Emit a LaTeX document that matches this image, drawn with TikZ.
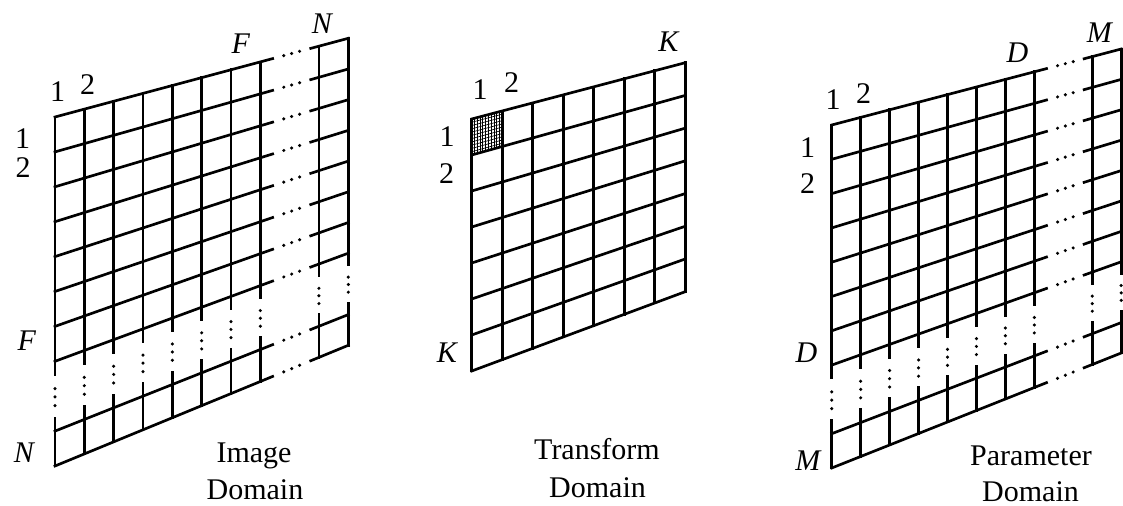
\documentclass[tikz,border=0pt]{standalone}
\usepackage{fontspec}
\setmainfont{Liberation Serif}
\newcommand{\gp}[2]{({\gXo+(#1)*\gDX},{\gYo+(#1)*\gA+(#2)*(\gC+(#1)*\gD)})}
\newcommand{\gapgrid}{%
  \foreach \v in {0,...,7,9,10}{%
    \draw[gl] \gp{0}{\v} -- \gp{7.42}{\v};
    \draw[gl] \gp{8.72}{\v} -- \gp{10}{\v};
    \foreach \t in {7.8,8.07,8.34} \fill \gp{\t}{\v} circle[radius=1.3pt];
  }%
  \foreach \u in {0,...,7,9,10}{%
    \draw[gl] \gp{\u}{0} -- \gp{\u}{7.38};
    \draw[gl] \gp{\u}{8.62} -- \gp{\u}{10};
    \foreach \t in {7.78,8.02,8.27} \fill \gp{\u}{\t} circle[radius=1.3pt];
  }%
}
\begin{document}
\begin{tikzpicture}[x=0.75pt,y=-0.75pt,
  gl/.style={line width=2pt, line cap=rect},
  fine/.style={line width=0.5pt},
  lbl/.style={inner sep=0pt, font=\fontsize{22.5}{27}\selectfont}]
\useasboundingbox (0,0) rectangle (1123,506);

% ---------- Image domain ----------
\def\gXo{55}\def\gDX{29.33}\def\gYo{117}\def\gA{-7.87}\def\gC{34.9}\def\gD{-0.42}
\gapgrid
\node[lbl] (i1t) at (57.5,92) {1};
\node[lbl] (i2t) at (87.5,85) {2};
\node[lbl] (iFt) at (241,44) {\textit{F}};
\node[lbl] (iNt) at (322.5,23.5) {\textit{N}};
\node[lbl] (i1l) at (22.5,139) {1};
\node[lbl] (i2l) at (23,168) {2};
\node[lbl] (iFl) at (27,340.5) {\textit{F}};
\node[lbl] (iNl) at (24.5,453) {\textit{N}};
\node[lbl, anchor=base] (icap1) at (254,462) {Image};
\node[lbl, anchor=base] (icap2) at (255,499) {Domain};

% ---------- Transform domain ----------
\def\gXo{471.7}\def\gDX{30.5}\def\gYo{119}\def\gA{-8.04}\def\gC{36}\def\gD{-0.47}
\foreach \i in {1,...,10}{%
  \draw[fine] \gp{\i/11}{0} -- \gp{\i/11}{1};
  \draw[fine] \gp{0}{\i/11} -- \gp{1}{\i/11};
}
\foreach \v in {0,...,7} \draw[gl] \gp{0}{\v} -- \gp{7}{\v};
\foreach \u in {0,...,7} \draw[gl] \gp{\u}{0} -- \gp{\u}{7};
\node[lbl] (t1t) at (480,90) {1};
\node[lbl] (t2t) at (511.5,83) {2};
\node[lbl] (tKt) at (669,42) {\textit{K}};
\node[lbl] (t1l) at (447,137) {1};
\node[lbl] (t2l) at (446.5,173.5) {2};
\node[lbl] (tKl) at (447.5,353) {\textit{K}};
\node[lbl, anchor=base] (tcap1) at (597,459) {Transform};
\node[lbl, anchor=base] (tcap2) at (597.5,497) {Domain};

% ---------- Parameter domain ----------
\def\gXo{831.7}\def\gDX{28.95}\def\gYo{125}\def\gA{-7.6}\def\gC{34.3}\def\gD{-0.39}
\gapgrid
\node[lbl] (p1t) at (833,100) {1};
\node[lbl] (p2t) at (863.5,93.5) {2};
\node[lbl] (pDt) at (1017.5,53) {\textit{D}};
\node[lbl] (pMt) at (1100,32.5) {\textit{M}};
\node[lbl] (p1l) at (807.5,148) {1};
\node[lbl] (p2l) at (807.5,183.5) {2};
\node[lbl] (pDl) at (806.5,352.5) {\textit{D}};
\node[lbl] (pMl) at (808.5,461) {\textit{M}};
\node[lbl, anchor=base] (pcap1) at (1031,465) {Parameter};
\node[lbl, anchor=base] (pcap2) at (1030.5,501) {Domain};
\end{tikzpicture}
\end{document}
